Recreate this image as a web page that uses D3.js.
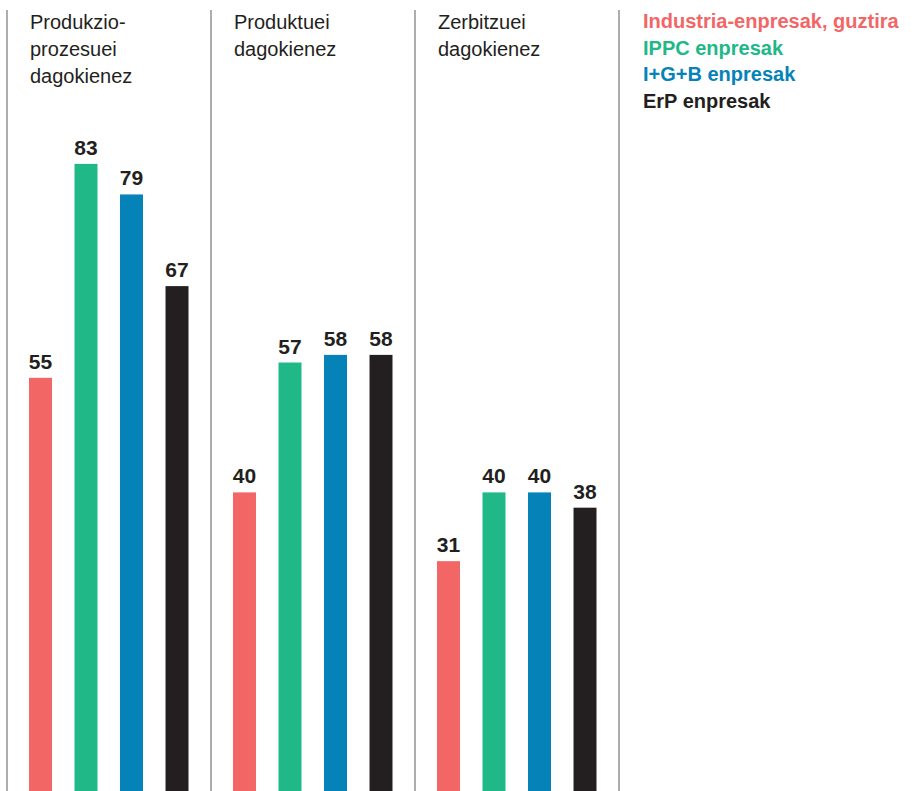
<!DOCTYPE html>
<html><head><meta charset="utf-8">
<script src="https://cdn.jsdelivr.net/npm/d3@7"></script>
<style>body{margin:0;background:#fff;}svg{display:block;font-family:"Liberation Sans",Arial,Helvetica,sans-serif;}</style>
</head><body>
<script>
const categories = ["Produkzio-prozesuei dagokienez", "Produktuei dagokienez", "Zerbitzuei dagokienez"];
const categoryLines = [["Produkzio-", "prozesuei", "dagokienez"], ["Produktuei", "dagokienez"], ["Zerbitzuei", "dagokienez"]];
const series = ["Industria-enpresak, guztira", "IPPC enpresak", "I+G+B enpresak", "ErP enpresak"];
const colors = ["#F26666", "#20B887", "#0583B9", "#231F20"];
const valuesIndustria = [55, 40, 31];
const valuesIPPC = [83, 57, 40];
const valuesIGB = [79, 58, 40];
const valuesErP = [67, 58, 38];
const seriesValues = [valuesIndustria, valuesIPPC, valuesIGB, valuesErP];

const W = 913, H = 791;
const svg = d3.select("body").append("svg").attr("width", W).attr("height", H);

const x0 = d3.scaleBand().domain(categories).range([7, 619]).paddingInner(0).paddingOuter(0);
const x1 = d3.scaleBand().domain(series).range([22, 181.5]).paddingInner(0.495).paddingOuter(0);
const y = d3.scaleLinear().domain([0, 100]).range([798, 34]);

// separators
const sepX = categories.map(c => x0(c)).concat([x0(categories[categories.length-1]) + x0.bandwidth()]);
svg.selectAll("line.sep").data(sepX).join("line")
  .attr("x1", d => d).attr("x2", d => d).attr("y1", 10).attr("y2", H)
  .attr("stroke", "#999").attr("stroke-width", 1.6);

const data = [];
categories.forEach((c, ci) => series.forEach((s, si) => data.push({c, s, si, v: seriesValues[si][ci]})));

svg.selectAll("rect.bar").data(data).join("rect")
  .attr("x", d => x0(d.c) + x1(d.s))
  .attr("width", x1.bandwidth())
  .attr("y", d => y(d.v))
  .attr("height", d => y(0) - y(d.v))
  .attr("fill", d => colors[d.si]);

svg.selectAll("text.val").data(data).join("text")
  .attr("x", d => x0(d.c) + x1(d.s) + x1.bandwidth() / 2)
  .attr("y", d => y(d.v) - 9)
  .attr("text-anchor", "middle")
  .attr("font-size", 21).attr("font-weight", "bold")
  .attr("fill", "#231F20")
  .text(d => d.v);

// category titles
categories.forEach((c, ci) => {
  const t = svg.append("text").attr("font-size", 20).attr("fill", "#231F20");
  categoryLines[ci].forEach((ln, li) => {
    t.append("tspan").attr("x", x0(c) + 23).attr("y", 28.5 + li * 27).text(ln);
  });
});

// legend
series.forEach((s, si) => {
  svg.append("text").attr("x", 643).attr("y", 28 + si * 26.5)
    .attr("font-size", 20).attr("font-weight", "bold")
    .attr("fill", colors[si]).text(s);
});
</script>
</body></html>
